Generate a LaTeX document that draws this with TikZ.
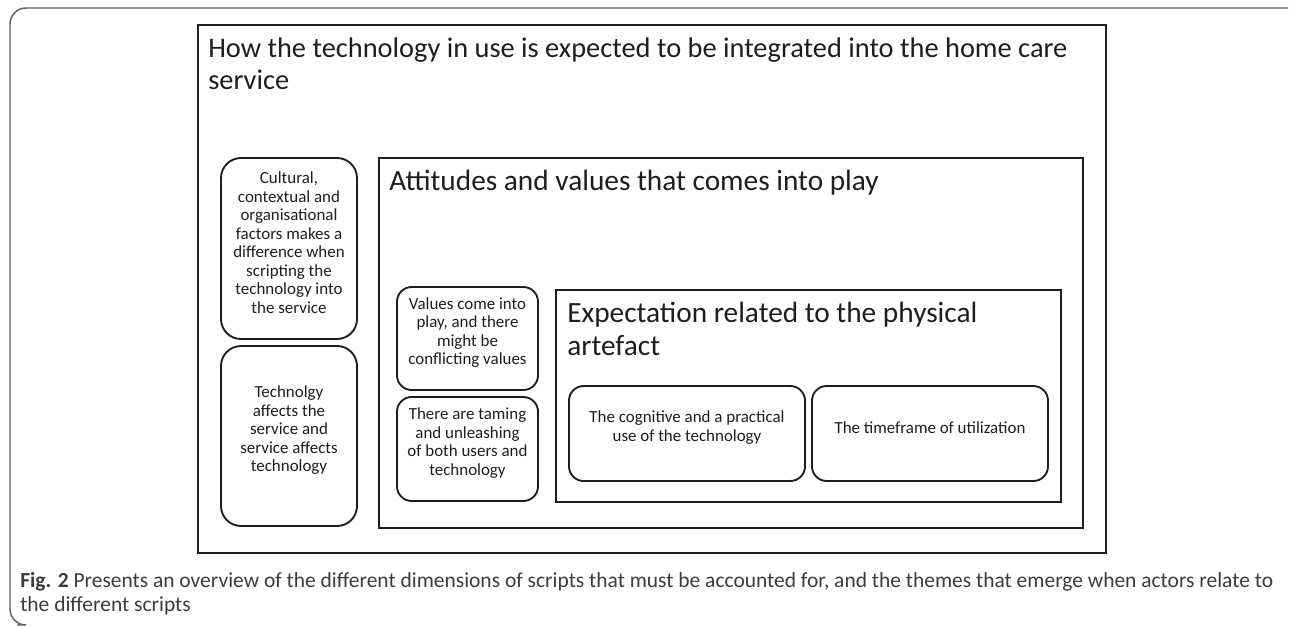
\documentclass[tikz,border=0pt]{standalone}
\usepackage{fontspec}
\setmainfont{Carlito}
\usepackage{xcolor}
\usetikzlibrary{fit}
\definecolor{inkgray}{HTML}{1E1E1E}
\definecolor{capgray}{HTML}{3C3C3C}
\tikzset{
  scriptframe/.style={draw=inkgray,line width=1.4pt,inner sep=0pt},
  themebox/.style={scriptframe,rounded corners=15pt,align=center,
    font=\fontsize{12.7}{13.9}\selectfont,text=inkgray},
  smallbox/.style={themebox,rounded corners=11pt},
  headtext/.style={anchor=north west,inner sep=0pt,align=left,
    font=\fontsize{22}{24.5}\selectfont,text=inkgray},
  captext/.style={anchor=north west,inner sep=0pt,align=left,
    font=\fontsize{16.1}{18.3}\selectfont,text=capgray},
}

\begin{document}
\begin{tikzpicture}[x=0.75pt,y=-0.75pt]
  \useasboundingbox (0,0) rectangle (1290,626);
  % page frame
  \draw[capgray!80,line width=1.1pt,rounded corners=12pt]
    (1288,8) -- (10,8) -- (10,625) -- (17,625);

  % outer script
  \node[scriptframe,fit={(198,25) (1106,553)}] (usebox) {};
  \node[headtext,font=\fontsize{21.3}{24}\selectfont] (usetitle) at (208,38)
    {How the technology in use is expected to be integrated into the home care\\service};
  \node[themebox,fit={(221,158) (357,339)}] (culture)
    {Cultural,\\contextual and\\organisational\\factors makes a\\difference when\\scripting the\\technology into\\the service};
  \node[themebox,fit={(221,346) (357,526)}] (mutual)
    {Technolgy\\affects the\\service and\\service affects\\technology};

  % attitudes and values
  \node[scriptframe,fit={(379,158) (1083,528)}] (valuebox) {};
  \node[headtext] (valuetitle) at (389,170)
    {Attitudes and values that comes into play};
  \node[smallbox,fit={(397,287) (538,390)}] (conflict)
    {Values come into\\play, and there\\might be\\conflicting values};
  \node[smallbox,fit={(397,397) (538,501)}] (taming)
    {There are taming\\and unleashing\\of both users and\\technology};

  % physical artefact
  \node[scriptframe,fit={(556,290) (1061,502)}] (artefactbox) {};
  \node[headtext] (artefacttitle) at (567,302)
    {Expectation related to the physical\\artefact};
  \node[smallbox,fit={(569,386) (805,481)}] (cognitive)
    {The cognitive and a practical\\use of the technology};
  \node[smallbox,fit={(812,386) (1048,481)}] (timeframe)
    {The timeframe of utilization};

  \node[captext] (caption) at (20,572)
    {\textbf{Fig. 2} Presents an overview of the different dimensions of scripts that must be accounted for, and the themes that emerge when actors relate to\\the different scripts};
\end{tikzpicture}
\end{document}
